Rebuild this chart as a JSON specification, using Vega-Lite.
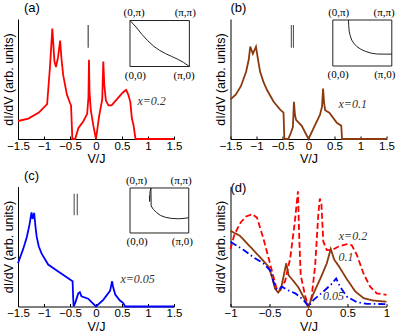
{
  "$schema": "https://vega.github.io/schema/vega-lite/v6.json",
  "autosize": {"type": "pad"},
  "padding": {"left": 2, "top": 1, "right": 0, "bottom": 0},
  "background": "white",
  "config": {
    "view": {"stroke": null},
    "axis": {"grid": false, "domainColor": "#000", "tickColor": "#000", "labelColor": "#000", "titleColor": "#000",
             "labelFont": "Liberation Sans", "titleFont": "Liberation Sans", "labelFontSize": 11.5, "titleFontSize": 12.5, "titleFontWeight": "normal"},
    "axisX": {"labelFlush": false, "labelOverlap": false, "tickCount": 10, "format": ".2~g", "tickSize": -3, "labelPadding": 4, "titlePadding": 1},
    "axisY": {"labels": false, "ticks": false, "titlePadding": 3},
    "title": {"anchor": "start", "frame": "group", "fontSize": 13, "fontWeight": "normal", "font": "Liberation Sans", "offset": -8, "color": "#000"}
  },
  "columns": 2,
  "spacing": {"row": 47.5, "column": 56.5},
  "bounds": "flush",
  "concat": [
    {
      "width": 156, "height": 120,
      "title": {"text": "(a)", "dx": 6},
      "resolve": {"scale": {"x": "independent", "y": "independent"}},
      "layer": [
        {"layer": [
          {"data": {"values": [
            {"v":-1.5,"g":0.15},{"v":-1.3,"g":0.17},{"v":-1.1,"g":0.22},{"v":-0.94,"g":0.29},{"v":-0.885,"g":0.6},{"v":-0.84,"g":0.92},{"v":-0.8,"g":0.65},{"v":-0.77,"g":0.6},{"v":-0.73,"g":0.68},{"v":-0.69,"g":0.82},{"v":-0.66,"g":0.65},{"v":-0.63,"g":0.53},{"v":-0.56,"g":0.37},{"v":-0.5,"g":0.3},{"v":-0.48,"g":0.28},{"v":-0.455,"g":0},{"v":-0.4,"g":0},{"v":-0.34,"g":0.09},{"v":-0.24,"g":0.15},{"v":-0.17,"g":0.21},{"v":-0.145,"g":0.35},{"v":-0.135,"g":0.66},{"v":-0.125,"g":0.4},{"v":-0.1,"g":0.24},{"v":-0.05,"g":0.11},{"v":0,"g":0},{"v":0.06,"g":0.19},{"v":0.12,"g":0.33},{"v":0.14,"g":0.645},{"v":0.16,"g":0.45},{"v":0.19,"g":0.32},{"v":0.24,"g":0.28},{"v":0.3,"g":0.28},{"v":0.4,"g":0.33},{"v":0.5,"g":0.38},{"v":0.55,"g":0.4},{"v":0.58,"g":0.41},{"v":0.62,"g":0.37},{"v":0.66,"g":0.31},{"v":0.69,"g":0.17},{"v":0.72,"g":0.12},{"v":0.76,"g":0},{"v":1.5,"g":0}
          ]},
           "mark": {"type": "line", "color": "#ff0000", "strokeWidth": 1.8},
           "encoding": {
             "x": {"field": "v", "type": "quantitative", "title": "V/J", "scale": {"domain": [-1.5, 1.5], "nice": false, "zero": false},
                   "axis": {"values": [-1.5,-1,-0.5,0,0.5,1,1.5], "tickCount": 10, "labelOverlap": false}},
             "y": {"field": "g", "type": "quantitative", "title": "dI/dV (arb. units)", "scale": {"domain": [0, 1], "nice": false}}
           }},
          {"data": {"values": [{"v": -0.15, "g": 0.76, "g2": 0.95}]},
           "mark": {"type": "rule", "color": "#555", "strokeWidth": 1.3},
           "encoding": {"x": {"field": "v", "type": "quantitative"}, "y": {"field": "g", "type": "quantitative"}, "y2": {"field": "g2"}}},
          {"data": {"values": [{"v": 1.07, "g": 0.32, "t": "x=0.2"}]},
           "mark": {"type": "text", "font": "Liberation Serif", "fontStyle": "italic", "fontSize": 12, "color": "#333"},
           "encoding": {"x": {"field": "v", "type": "quantitative"}, "y": {"field": "g", "type": "quantitative"}, "text": {"field": "t"}}}
        ]},
        {"layer": [
          {"data": {"values": [{"u": 0, "u2": 1, "w": 0, "w2": 1}]},
           "mark": {"type": "rect", "filled": false, "stroke": "#222", "strokeWidth": 1},
           "encoding": {
             "x": {"field": "u", "type": "quantitative", "scale": {"domain": [-1.886, 0.741], "nice": false, "zero": false}, "axis": null},
             "x2": {"field": "u2"},
             "y": {"field": "w", "type": "quantitative", "scale": {"domain": [-1.576, 1.033], "nice": false, "zero": false}, "axis": null},
             "y2": {"field": "w2"}}},
          {"data": {"values": [
            {"u":0,"w":1},{"u":0.1,"w":0.86},{"u":0.2,"w":0.7},{"u":0.3,"w":0.56},{"u":0.4,"w":0.44},{"u":0.5,"w":0.35},{"u":0.6,"w":0.28},{"u":0.7,"w":0.22},{"u":0.8,"w":0.16},{"u":0.9,"w":0.09},{"u":1,"w":0}
          ]},
           "mark": {"type": "line", "color": "#222", "strokeWidth": 1},
           "encoding": {"x": {"field": "u", "type": "quantitative"}, "y": {"field": "w", "type": "quantitative"}}},
          {"data": {"values": [
            {"u":0.07,"w":1.16,"t":"(0,π)"},{"u":0.93,"w":1.16,"t":"(π,π)"},{"u":0.09,"w":-0.2,"t":"(0,0)"},{"u":0.91,"w":-0.2,"t":"(π,0)"}
          ]},
           "mark": {"type": "text", "font": "Liberation Serif", "fontSize": 11, "color": "#000"},
           "encoding": {"x": {"field": "u", "type": "quantitative"}, "y": {"field": "w", "type": "quantitative"}, "text": {"field": "t"}}}
        ]}
      ]
    },
    {
      "width": 156, "height": 120,
      "title": {"text": "(b)", "dx": 0},
      "resolve": {"scale": {"x": "independent", "y": "independent"}},
      "layer": [
        {"layer": [
          {"data": {"values": [
            {"v":-1.5,"g":0.33},{"v":-1.4,"g":0.37},{"v":-1.3,"g":0.44},{"v":-1.2,"g":0.56},{"v":-1.15,"g":0.66},{"v":-1.12,"g":0.77},{"v":-1.07,"g":0.71},{"v":-1.01,"g":0.77},{"v":-0.97,"g":0.66},{"v":-0.93,"g":0.56},{"v":-0.87,"g":0.48},{"v":-0.8,"g":0.41},{"v":-0.67,"g":0.31},{"v":-0.545,"g":0.245},{"v":-0.48,"g":0.22},{"v":-0.465,"g":0},{"v":-0.39,"g":0},{"v":-0.34,"g":0.05},{"v":-0.3,"g":0.1},{"v":-0.28,"g":0.31},{"v":-0.26,"g":0.2},{"v":-0.24,"g":0.16},{"v":-0.13,"g":0.11},{"v":0,"g":0},{"v":0.13,"g":0.12},{"v":0.22,"g":0.2},{"v":0.26,"g":0.27},{"v":0.28,"g":0.42},{"v":0.3,"g":0.3},{"v":0.32,"g":0.24},{"v":0.4,"g":0.22},{"v":0.545,"g":0.135},{"v":0.63,"g":0.11},{"v":0.645,"g":0},{"v":1.5,"g":0}
          ]},
           "mark": {"type": "line", "color": "#8b3a0e", "strokeWidth": 1.8},
           "encoding": {
             "x": {"field": "v", "type": "quantitative", "title": "V/J", "scale": {"domain": [-1.5, 1.5], "nice": false, "zero": false},
                   "axis": {"values": [-1.5,-1,-0.5,0,0.5,1,1.5], "tickCount": 10, "labelOverlap": false}},
             "y": {"field": "g", "type": "quantitative", "title": "dI/dV (arb. units)", "scale": {"domain": [0, 1], "nice": false}}
           }},
          {"data": {"values": [{"v": -0.33, "g": 0.76, "g2": 0.95}, {"v": -0.29, "g": 0.76, "g2": 0.95}]},
           "mark": {"type": "rule", "color": "#555", "strokeWidth": 1.1},
           "encoding": {"x": {"field": "v", "type": "quantitative"}, "y": {"field": "g", "type": "quantitative"}, "y2": {"field": "g2"}}},
          {"data": {"values": [{"v": 0.85, "g": 0.29, "t": "x=0.1"}]},
           "mark": {"type": "text", "font": "Liberation Serif", "fontStyle": "italic", "fontSize": 12, "color": "#333"},
           "encoding": {"x": {"field": "v", "type": "quantitative"}, "y": {"field": "g", "type": "quantitative"}, "text": {"field": "t"}}}
        ]},
        {"layer": [
          {"data": {"values": [{"u": 0, "u2": 1, "w": 0, "w2": 1}]},
           "mark": {"type": "rect", "filled": false, "stroke": "#222", "strokeWidth": 1},
           "encoding": {
             "x": {"field": "u", "type": "quantitative", "scale": {"domain": [-1.734, 0.91], "nice": false, "zero": false}, "axis": null},
             "x2": {"field": "u2"},
             "y": {"field": "w", "type": "quantitative", "scale": {"domain": [-1.587, 1.022], "nice": false, "zero": false}, "axis": null},
             "y2": {"field": "w2"}}},
          {"data": {"values": [
            {"u":0.266,"w":1},{"u":0.27,"w":0.88},{"u":0.277,"w":0.76},{"u":0.295,"w":0.66},{"u":0.32,"w":0.565},{"u":0.36,"w":0.49},{"u":0.41,"w":0.42},{"u":0.48,"w":0.36},{"u":0.56,"w":0.315},{"u":0.65,"w":0.28},{"u":0.74,"w":0.262},{"u":0.85,"w":0.258},{"u":1,"w":0.258}
          ]},
           "mark": {"type": "line", "color": "#222", "strokeWidth": 1},
           "encoding": {"x": {"field": "u", "type": "quantitative"}, "y": {"field": "w", "type": "quantitative"}}},
          {"data": {"values": [
            {"u":0.1,"w":1.16,"t":"(0,π)"},{"u":0.87,"w":1.16,"t":"(π,π)"},{"u":0.09,"w":-0.2,"t":"(0,0)"},{"u":0.88,"w":-0.2,"t":"(π,0)"}
          ]},
           "mark": {"type": "text", "font": "Liberation Serif", "fontSize": 11, "color": "#000"},
           "encoding": {"x": {"field": "u", "type": "quantitative"}, "y": {"field": "w", "type": "quantitative"}, "text": {"field": "t"}}}
        ]}
      ]
    },
    {
      "width": 156, "height": 120,
      "title": {"text": "(c)", "dx": 6},
      "resolve": {"scale": {"x": "independent", "y": "independent"}},
      "layer": [
        {"layer": [
          {"data": {"values": [
            {"v":-1.5,"g":0.36},{"v":-1.4,"g":0.48},{"v":-1.33,"g":0.58},{"v":-1.28,"g":0.68},{"v":-1.24,"g":0.785},{"v":-1.22,"g":0.73},{"v":-1.19,"g":0.78},{"v":-1.16,"g":0.65},{"v":-1.14,"g":0.58},{"v":-1.1,"g":0.5},{"v":-1.045,"g":0.44},{"v":-0.92,"g":0.35},{"v":-0.72,"g":0.29},{"v":-0.45,"g":0.21},{"v":-0.44,"g":0.08},{"v":-0.43,"g":0},{"v":-0.4,"g":0.03},{"v":-0.37,"g":0.07},{"v":-0.34,"g":0.11},{"v":-0.31,"g":0.12},{"v":-0.28,"g":0.085},{"v":-0.15,"g":0.065},{"v":-0.08,"g":0.035},{"v":0,"g":0},{"v":0.14,"g":0.055},{"v":0.27,"g":0.13},{"v":0.31,"g":0.21},{"v":0.33,"g":0.16},{"v":0.37,"g":0.1},{"v":0.46,"g":0.05},{"v":0.52,"g":0.03},{"v":0.56,"g":0},{"v":1.5,"g":0}
          ]},
           "mark": {"type": "line", "color": "#0000ff", "strokeWidth": 1.8},
           "encoding": {
             "x": {"field": "v", "type": "quantitative", "title": "V/J", "scale": {"domain": [-1.5, 1.5], "nice": false, "zero": false},
                   "axis": {"values": [-1.5,-1,-0.5,0,0.5,1,1.5], "tickCount": 10, "labelOverlap": false}},
             "y": {"field": "g", "type": "quantitative", "title": "dI/dV (arb. units)", "scale": {"domain": [0, 1], "nice": false}}
           }},
          {"data": {"values": [{"v": -0.42, "g": 0.76, "g2": 0.94}, {"v": -0.36, "g": 0.76, "g2": 0.94}]},
           "mark": {"type": "rule", "color": "#555", "strokeWidth": 1.1},
           "encoding": {"x": {"field": "v", "type": "quantitative"}, "y": {"field": "g", "type": "quantitative"}, "y2": {"field": "g2"}}},
          {"data": {"values": [{"v": 0.8, "g": 0.23, "t": "x=0.05"}]},
           "mark": {"type": "text", "font": "Liberation Serif", "fontStyle": "italic", "fontSize": 12, "color": "#333"},
           "encoding": {"x": {"field": "v", "type": "quantitative"}, "y": {"field": "g", "type": "quantitative"}, "text": {"field": "t"}}}
        ]},
        {"layer": [
          {"data": {"values": [{"u": 0, "u2": 1, "w": 0, "w2": 1}]},
           "mark": {"type": "rect", "filled": false, "stroke": "#222", "strokeWidth": 1},
           "encoding": {
             "x": {"field": "u", "type": "quantitative", "scale": {"domain": [-1.908, 0.749], "nice": false, "zero": false}, "axis": null},
             "x2": {"field": "u2"},
             "y": {"field": "w", "type": "quantitative", "scale": {"domain": [-1.633, 1.033], "nice": false, "zero": false}, "axis": null},
             "y2": {"field": "w2"}}},
          {"data": {"values": [
            {"u":0.356,"w":1},{"u":0.34,"w":0.92},{"u":0.33,"w":0.83},{"u":0.335,"w":0.7},{"u":0.36,"w":0.6},{"u":0.4,"w":0.52},{"u":0.455,"w":0.45},{"u":0.52,"w":0.39},{"u":0.6,"w":0.35},{"u":0.7,"w":0.325},{"u":0.83,"w":0.316},{"u":0.92,"w":0.325},{"u":1,"w":0.34}
          ]},
           "mark": {"type": "line", "color": "#222", "strokeWidth": 1},
           "encoding": {"x": {"field": "u", "type": "quantitative"}, "y": {"field": "w", "type": "quantitative"}}},
          {"data": {"values": [
            {"u":0.11,"w":1.16,"t":"(0,π)"},{"u":0.87,"w":1.16,"t":"(π,π)"},{"u":0.12,"w":-0.2,"t":"(0,0)"},{"u":0.89,"w":-0.2,"t":"(π,0)"}
          ]},
           "mark": {"type": "text", "font": "Liberation Serif", "fontSize": 11, "color": "#000"},
           "encoding": {"x": {"field": "u", "type": "quantitative"}, "y": {"field": "w", "type": "quantitative"}, "text": {"field": "t"}}}
        ]}
      ]
    },
    {
      "width": 156, "height": 120,
      "title": {"text": "(d)", "dx": 0},
      "layer": [
        {"data": {"values": [
          {"s":"a","v":-1,"g":0.48},{"s":"a","v":-0.95,"g":0.6},{"s":"a","v":-0.87,"g":0.7},{"s":"a","v":-0.8,"g":0.75},{"s":"a","v":-0.72,"g":0.77},{"s":"a","v":-0.66,"g":0.74},{"s":"a","v":-0.58,"g":0.57},{"s":"a","v":-0.51,"g":0.4},{"s":"a","v":-0.45,"g":0.25},{"s":"a","v":-0.41,"g":0.15},{"s":"a","v":-0.38,"g":0.13},{"s":"a","v":-0.36,"g":0.15},{"s":"a","v":-0.3,"g":0.21},{"s":"a","v":-0.235,"g":0.4},{"s":"a","v":-0.18,"g":0.68},{"s":"a","v":-0.135,"g":0.96},{"s":"a","v":-0.12,"g":0.6},{"s":"a","v":-0.1,"g":0.26},{"s":"a","v":-0.04,"g":0.08},{"s":"a","v":0,"g":0},{"s":"a","v":0.04,"g":0.08},{"s":"a","v":0.085,"g":0.34},{"s":"a","v":0.125,"g":0.76},{"s":"a","v":0.145,"g":0.9},{"s":"a","v":0.165,"g":0.86},{"s":"a","v":0.19,"g":0.54},{"s":"a","v":0.235,"g":0.47},{"s":"a","v":0.3,"g":0.47},{"s":"a","v":0.385,"g":0.5},{"s":"a","v":0.49,"g":0.52},{"s":"a","v":0.555,"g":0.51},{"s":"a","v":0.62,"g":0.43},{"s":"a","v":0.705,"g":0.275},{"s":"a","v":0.79,"g":0.165},{"s":"a","v":0.875,"g":0.11},{"s":"a","v":1,"g":0.096},
          {"s":"b","v":-1,"g":0.63},{"s":"b","v":-0.88,"g":0.59},{"s":"b","v":-0.75,"g":0.5},{"s":"b","v":-0.62,"g":0.41},{"s":"b","v":-0.51,"g":0.33},{"s":"b","v":-0.47,"g":0.25},{"s":"b","v":-0.43,"g":0.15},{"s":"b","v":-0.39,"g":0.116},{"s":"b","v":-0.355,"g":0.14},{"s":"b","v":-0.32,"g":0.25},{"s":"b","v":-0.285,"g":0.36},{"s":"b","v":-0.255,"g":0.26},{"s":"b","v":-0.19,"g":0.21},{"s":"b","v":-0.13,"g":0.16},{"s":"b","v":-0.065,"g":0.08},{"s":"b","v":0,"g":0},{"s":"b","v":0.065,"g":0.11},{"s":"b","v":0.15,"g":0.23},{"s":"b","v":0.235,"g":0.36},{"s":"b","v":0.285,"g":0.48},{"s":"b","v":0.33,"g":0.39},{"s":"b","v":0.385,"g":0.34},{"s":"b","v":0.49,"g":0.23},{"s":"b","v":0.6,"g":0.125},{"s":"b","v":0.705,"g":0.07},{"s":"b","v":0.83,"g":0.05},{"s":"b","v":1,"g":0.04},
          {"s":"c","v":-1,"g":0.54},{"s":"c","v":-0.83,"g":0.47},{"s":"c","v":-0.705,"g":0.41},{"s":"c","v":-0.58,"g":0.36},{"s":"c","v":-0.49,"g":0.3},{"s":"c","v":-0.45,"g":0.21},{"s":"c","v":-0.415,"g":0.15},{"s":"c","v":-0.385,"g":0.14},{"s":"c","v":-0.34,"g":0.165},{"s":"c","v":-0.28,"g":0.14},{"s":"c","v":-0.17,"g":0.11},{"s":"c","v":-0.065,"g":0.055},{"s":"c","v":0,"g":0},{"s":"c","v":0.065,"g":0.055},{"s":"c","v":0.19,"g":0.124},{"s":"c","v":0.3,"g":0.19},{"s":"c","v":0.355,"g":0.234},{"s":"c","v":0.405,"g":0.165},{"s":"c","v":0.49,"g":0.083},{"s":"c","v":0.62,"g":0.036},{"s":"c","v":0.75,"g":0.022},{"s":"c","v":1,"g":0.02}
        ]},
         "mark": {"type": "line", "strokeWidth": 1.8},
         "encoding": {
           "x": {"field": "v", "type": "quantitative", "title": "V/J", "scale": {"domain": [-1, 1], "nice": false, "zero": false},
                 "axis": {"values": [-1,-0.5,0,0.5,1], "tickCount": 10, "labelOverlap": false}},
           "y": {"field": "g", "type": "quantitative", "title": "dI/dV (arb. units)", "scale": {"domain": [0, 1], "nice": false}},
           "color": {"field": "s", "type": "nominal", "scale": {"domain": ["a","b","c"], "range": ["#ff0000", "#8b3a0e", "#0000ff"]}, "legend": null},
           "strokeDash": {"field": "s", "type": "nominal", "scale": {"domain": ["a","b","c"], "range": [[6,3],[1,0],[7,3,1.5,3]]}, "legend": null}
         }},
        {"data": {"values": [{"v": 0.57, "g": 0.59, "t": "x=0.2"}, {"v": 0.48, "g": 0.41, "t": "0.1"}, {"v": 0.32, "g": 0.09, "t": "0.05"}]},
         "mark": {"type": "text", "font": "Liberation Serif", "fontStyle": "italic", "fontSize": 12, "color": "#333"},
         "encoding": {"x": {"field": "v", "type": "quantitative"}, "y": {"field": "g", "type": "quantitative"}, "text": {"field": "t"}}}
      ]
    }
  ]
}
